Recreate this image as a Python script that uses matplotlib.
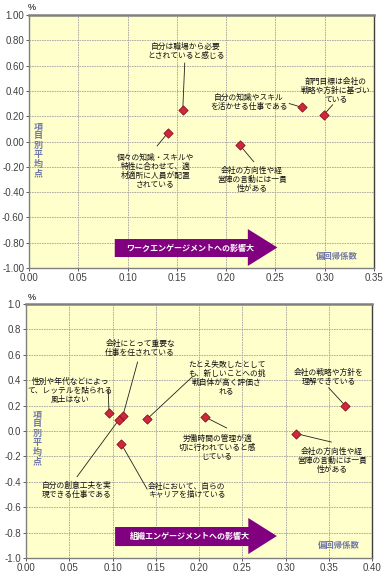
import matplotlib.pyplot as plt
from matplotlib.patches import Polygon

plt.rcParams['font.family'] = ['Noto Sans CJK JP', 'DejaVu Sans']

# top chart: work engagement
work_labels = ['自分は職場から必要\nとされていると感じる',
               '個々の知識・スキルや\n特性に合わせて、適\n材適所に人員が配置\nされている',
               '自分の知識やスキル\nを活かせる仕事である',
               '部門目標は会社の\n戦略や方針に基づい\nている',
               '会社の方向性や経\n営陣の言動には一貫\n性がある']
work_x = [0.156, 0.141, 0.277, 0.299, 0.214]
work_y = [0.25, 0.07, 0.27, 0.21, -0.03]

# bottom chart: organisational engagement
org_labels = ['性別や年代などによっ\nて、レッテルを貼られる\n風土はない',
              '会社にとって重要な\n仕事を任されている',
              '自分の創意工夫を実\n現できる仕事である',
              'たとえ失敗したとして\nも、新しいことへの挑\n戦自体が高く評価さ\nれる',
              '会社において、自らの\nキャリアを描けている',
              '労働時間の管理が適\n切に行われていると感\nじている',
              '会社の方向性や経\n営陣の言動には一貫\n性がある',
              '会社の戦略や方針を\n理解できている']
org_x = [0.096, 0.112, 0.107, 0.140, 0.110, 0.207, 0.312, 0.369]
org_y = [0.14, 0.12, 0.085, 0.094, -0.10, 0.11, -0.02, 0.20]

# label centres and leader starts (data coords)
work_text_pos = [(0.159, 0.715), (0.128, -0.235), (0.223, 0.312), (0.311, 0.40), (0.226, -0.305)]
work_lead = [(0.158, 0.62), (0.130, -0.035), (0.264, 0.30), (0.308, 0.29), (0.228, -0.16)]
org_text_pos = [(0.051, 0.315), (0.132, 0.654), (0.059, -0.465), (0.232, 0.417),
                (0.186, -0.472), (0.221, -0.134), (0.354, -0.236), (0.350, 0.425)]
org_lead = [(0.095, 0.32), (0.129, 0.543), (0.059, -0.36), (0.192, 0.425),
            (0.140, -0.457), (0.232, 0.024), (0.353, -0.087), (0.350, 0.34)]

W, H = 388, 578
fig = plt.figure(figsize=(W / 100, H / 100), dpi=100)

AX_COL = '#FFFFCC'
PURPLE = '#800080'
NOTE = '#7078A8'


def setup(ax, xmax, xstep, ystep, fmt_x, fmt_y):
    ax.set_facecolor(AX_COL)
    ax.set_xlim(0, xmax)
    ax.set_ylim(-1, 1)
    nx = int(round(xmax / xstep))
    xt = [i * xstep for i in range(nx + 1)]
    ny = int(round(2 / ystep))
    yt = [-1 + i * ystep for i in range(ny + 1)]
    ax.set_xticks(xt)
    ax.set_xticklabels([fmt_x % v for v in xt], family='Liberation Sans', fontsize=7)
    ax.set_yticks(yt)
    ax.set_yticklabels([fmt_y % (v + 0.0) if abs(v) > 1e-9 else fmt_y % 0 for v in yt],
                       family='Liberation Sans', fontsize=7)
    ax.grid(True, color='#A0A0A0', linestyle=(0, (2, 1)), linewidth=0.6)
    ax.tick_params(length=2, width=0.6, colors='#404040', pad=1.5)
    for s in ax.spines.values():
        s.set_color('#808080')
        s.set_linewidth(1.0)
    ax.spines['top'].set_linewidth(1.8)
    ax.spines['right'].set_color('#404040')


def big_arrow(ax, x0, x1, xh, yb0, yb1, yh0, yh1, text, tx, ty):
    pts = [(x0, yb0), (xh, yb0), (xh, yh0), (x1, (yh0 + yh1) / 2), (xh, yh1), (xh, yb1), (x0, yb1)]
    ax.add_patch(Polygon(pts, closed=True, facecolor=PURPLE, edgecolor='none', zorder=3))
    ax.text(tx, ty, text, color='white', fontsize=5.8, fontweight='bold', ha='center', va='center', zorder=4)


def draw(ax, xs, ys, labels, tpos, lead):
    for (lx, ly), x, y in zip(lead, xs, ys):
        ax.plot([lx, x], [ly, y], color='#202020', lw=0.6, zorder=4)
    ax.scatter(xs, ys, marker='D', s=22, facecolor='#D0283A', edgecolor='#801020',
               linewidth=0.6, zorder=5)
    for (tx, ty), lab in zip(tpos, labels):
        ax.text(tx, ty, lab, fontsize=5.6, ha='center', va='center', linespacing=1.15,
                color='#101010', zorder=6)


# top
ax1 = fig.add_axes([29 / W, 1 - 268 / H, 345 / W, 253 / H])
setup(ax1, 0.35, 0.05, 0.2, '%.2f', '%.2f')
big_arrow(ax1, 0.087, 0.252, 0.222, -0.771, -0.913, -0.692, -0.984,
          'ワークエンゲージメントへの影響大', 0.163, -0.842)
draw(ax1, work_x, work_y, work_labels, work_text_pos, work_lead)
ax1.text(0.312, -0.905, '偏回帰係数', color=NOTE, fontsize=6, fontweight='bold', ha='center', va='center')
ax1.text(0.026, -0.067, '項\n目\n別\n平\n均\n点', color=NOTE, fontsize=6.5, fontweight='bold',
         ha='center', va='center', linespacing=1.05, transform=ax1.get_yaxis_transform())
fig.text(32 / W, 1 - 8 / H, '%', fontsize=6.5, family='Liberation Sans', ha='center', va='center')

# bottom
ax2 = fig.add_axes([26 / W, 1 - 558 / H, 346 / W, 254 / H])
setup(ax2, 0.40, 0.05, 0.2, '%.2f', '%.1f')
big_arrow(ax2, 0.103, 0.290, 0.257, -0.756, -0.906, -0.685, -0.969,
          '組織エンゲージメントへの影響大', 0.19, -0.834)
draw(ax2, org_x, org_y, org_labels, org_text_pos, org_lead)
ax2.text(0.362, -0.898, '偏回帰係数', color=NOTE, fontsize=6, fontweight='bold', ha='center', va='center')
ax2.text(0.032, -0.055, '項\n目\n別\n平\n均\n点', color=NOTE, fontsize=6.5, fontweight='bold',
         ha='center', va='center', linespacing=1.05, transform=ax2.get_yaxis_transform())
fig.text(32 / W, 1 - 297 / H, '%', fontsize=6.5, family='Liberation Sans', ha='center', va='center')

fig.savefig('out.png', dpi=100)
